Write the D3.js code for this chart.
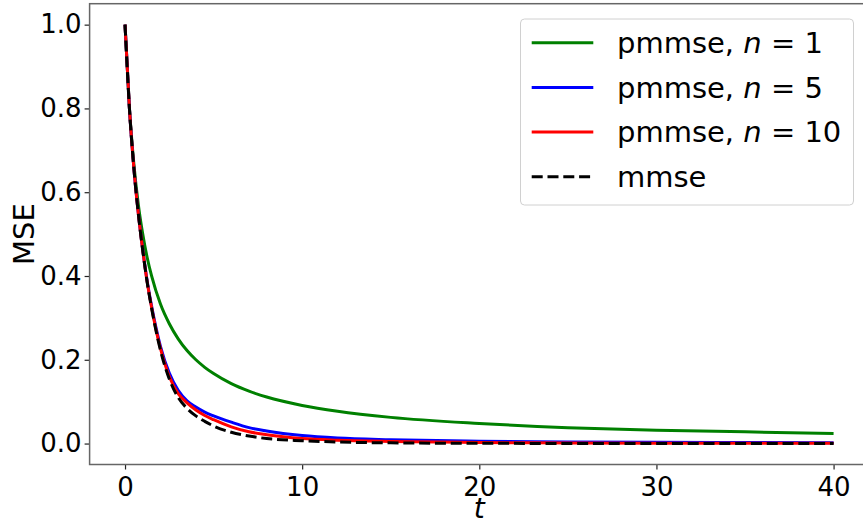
<!DOCTYPE html>
<html>
<head>
<meta charset="utf-8">
<script src="https://cdn.jsdelivr.net/npm/d3@7"></script>
<style>
  html, body { margin: 0; padding: 0; background: #fff; }
  svg { display: block; font-family: "DejaVu Sans", sans-serif; }
</style>
</head>
<body>
<svg id="chart" width="863" height="523"></svg>
<script>
// ---- data ----
const tValues  = [0, 0.25, 0.5, 0.75, 1, 1.25, 1.5, 2, 2.5, 3, 3.5, 4, 4.5, 5, 6, 7, 8, 10, 12, 15, 20, 25, 30, 35, 40];
const pmmseN1  = [1, 0.80, 0.667, 0.571, 0.5, 0.444, 0.40, 0.333, 0.286, 0.25, 0.222, 0.20, 0.182, 0.167, 0.143, 0.125, 0.111, 0.091, 0.077, 0.0625, 0.048, 0.038, 0.032, 0.028, 0.024];
const pmmseN5  = [1, 0.799, 0.657, 0.550, 0.463, 0.388, 0.328, 0.232, 0.168, 0.127, 0.102, 0.087, 0.075, 0.066, 0.051, 0.038, 0.030, 0.019, 0.013, 0.009, 0.0055, 0.004, 0.003, 0.0025, 0.002];
const pmmseN10 = [1, 0.799, 0.657, 0.549, 0.462, 0.386, 0.325, 0.227, 0.160, 0.119, 0.097, 0.080, 0.067, 0.057, 0.040, 0.028, 0.021, 0.012, 0.008, 0.005, 0.0025, 0.0015, 0.001, 0.0008, 0.0006];
const mmse     = [1, 0.799, 0.657, 0.549, 0.461, 0.385, 0.323, 0.223, 0.154, 0.110, 0.084, 0.066, 0.053, 0.042, 0.027, 0.018, 0.012, 0.0067, 0.0037, 0.0017, 0.0006, 0.0003, 0.0002, 0.0001, 0.0001];

const seriesNames  = ["pmmse", "pmmse", "pmmse", "mmse"];
const seriesN      = ["1", "5", "10", null];
const seriesColors = ["#008000", "#0000ff", "#ff0000", "#000000"];
const xTicks = [0, 10, 20, 30, 40];
const yTicks = [0.0, 0.2, 0.4, 0.6, 0.8, 1.0];
const xLabel = "t";
const yLabel = "MSE";

(function () {
// ---- layout ----
const svg = d3.select("#chart");
const pL = 89.6, pR = 869, pT = 3.7, pB = 464.5;
const x = d3.scaleLinear().domain([-2, 42]).range([pL, pR]);
const y = d3.scaleLinear().domain([-0.05, 1.05]).range([pB, pT]);

const allSeries = [pmmseN1, pmmseN5, pmmseN10, mmse];

svg.append("defs").append("clipPath").attr("id", "plotclip")
  .append("rect").attr("x", pL).attr("y", pT)
  .attr("width", pR - pL).attr("height", pB - pT);

const line = d3.line()
  .x(d => x(d[0])).y(d => y(d[1]))
  .curve(d3.curveMonotoneX);

const plot = svg.append("g").attr("clip-path", "url(#plotclip)");
allSeries.forEach((vals, i) => {
  const pts = tValues.map((t, k) => [t, vals[k]]);
  plot.append("path")
    .attr("d", line(pts))
    .attr("fill", "none")
    .attr("stroke", seriesColors[i])
    .attr("stroke-width", 3)
    .attr("stroke-linejoin", "round")
    .attr("stroke-dasharray", i === 3 ? "11,4.8" : null);
});

// ---- axes ----
const fontSize = 26;
const xAxis = d3.axisBottom(x).tickValues(xTicks).tickFormat(d3.format("d")).tickSize(5).tickPadding(8);
const yAxis = d3.axisLeft(y).tickValues(yTicks).tickFormat(d3.format(".1f")).tickSize(5).tickPadding(3);

const gx = svg.append("g").attr("transform", `translate(0,${pB})`).call(xAxis);
const gy = svg.append("g").attr("transform", `translate(${pL},0)`).call(yAxis);
[gx, gy].forEach(g => {
  g.select(".domain").remove();
  g.selectAll(".tick line").attr("stroke", "#222").attr("stroke-width", 1.2);
  g.selectAll(".tick text").attr("fill", "#000").style("font-size", fontSize + "px")
    .style("font-family", "'DejaVu Sans', sans-serif");
});

// spines
svg.append("rect")
  .attr("x", pL).attr("y", pT)
  .attr("width", pR - pL).attr("height", pB - pT)
  .attr("fill", "none").attr("stroke", "#666").attr("stroke-width", 1.5);

// axis labels
svg.append("text")
  .attr("x", (pL + pR) / 2).attr("y", 518)
  .attr("text-anchor", "middle")
  .style("font-size", "28px").style("font-style", "italic")
  .text(xLabel);

svg.append("text")
  .attr("transform", `translate(34,${(pT + pB) / 2}) rotate(-90)`)
  .attr("text-anchor", "middle")
  .style("font-size", "29px")
  .text(yLabel);

// ---- legend ----
const lg = svg.append("g");
lg.append("rect")
  .attr("x", 520.5).attr("y", 19).attr("width", 333).attr("height", 186)
  .attr("rx", 4).attr("ry", 4)
  .attr("fill", "#fff").attr("fill-opacity", 0.8)
  .attr("stroke", "#d0d0d0").attr("stroke-width", 1);

const rowY = [42.7, 87.4, 132.1, 176.8];
seriesNames.forEach((name, i) => {
  lg.append("line")
    .attr("x1", 531.7).attr("x2", 593.3)
    .attr("y1", rowY[i]).attr("y2", rowY[i])
    .attr("stroke", seriesColors[i]).attr("stroke-width", 3)
    .attr("stroke-dasharray", i === 3 ? "11,4.8" : null);
  const t = lg.append("text")
    .attr("x", 617).attr("y", rowY[i] + 10.2)
    .style("font-size", "29px");
  if (seriesN[i] !== null) {
    t.append("tspan").text(name + ", ");
    t.append("tspan").style("font-style", "italic").text("n");
    t.append("tspan").text(" = " + seriesN[i]);
  } else {
    t.text(name);
  }
});
})();
</script>
</body>
</html>
